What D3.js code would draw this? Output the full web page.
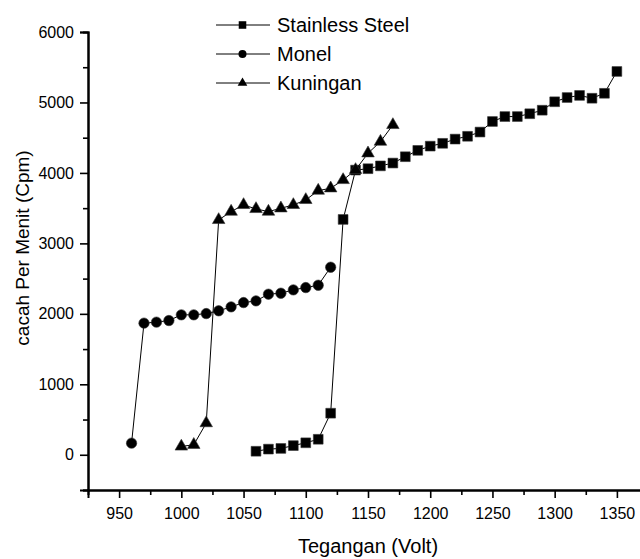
<!DOCTYPE html>
<html>
<head>
<meta charset="utf-8">
<script src="https://cdn.jsdelivr.net/npm/d3@7"></script>
<style>
  html, body { margin: 0; padding: 0; background: #fff; }
  svg { display: block; }
  text { font-family: "Liberation Sans", Arial, sans-serif; fill: #000; }
</style>
</head>
<body>
<svg id="chart" width="640" height="559"></svg>
<script>
// ---- Data ----
const seriesNames = ["Stainless Steel", "Monel", "Kuningan"];

const steelVolt = [1060,1070,1080,1090,1100,1110,1120,1130,1140,1150,1160,1170,1180,1190,1200,1210,1220,1230,1240,1250,1260,1270,1280,1290,1300,1310,1320,1330,1340,1350];
const steelCpm  = [50,80,90,130,170,220,590,3340,4040,4060,4100,4140,4230,4320,4380,4420,4480,4520,4580,4730,4800,4800,4840,4890,5010,5070,5100,5060,5130,5440];

const monelVolt = [960,970,980,990,1000,1010,1020,1030,1040,1050,1060,1070,1080,1090,1100,1110,1120];
const monelCpm  = [165,1868,1882,1905,1986,1986,2004,2043,2099,2160,2184,2279,2293,2340,2373,2406,2662];

const kuninganVolt = [1000,1010,1020,1030,1040,1050,1060,1070,1080,1090,1100,1110,1120,1130,1140,1150,1160,1170];
const kuninganCpm  = [118,142,449,3333,3451,3546,3489,3451,3498,3546,3617,3749,3782,3900,4043,4279,4444,4681];

const xMajorTicks = [950,1000,1050,1100,1150,1200,1250,1300,1350];
const xMinorTicks = [975,1025,1075,1125,1175,1225,1275,1325];
const yMajorTicks = [0,1000,2000,3000,4000,5000,6000];
const yMinorTicks = [-500,500,1500,2500,3500,4500,5500];

const xTitle = "Tegangan (Volt)";
const yTitle = "cacah Per Menit (Cpm)";

// ---- Layout ----
const svg = d3.select("#chart");
const mLeft = 88, mRight = 648, mTop = 32, mBottom = 490;

const x = d3.scaleLinear().domain([925, 1375]).range([mLeft, mRight]);
const y = d3.scaleLinear().domain([-500, 6000]).range([mBottom, mTop]);

// ---- Axes ----
const xAxisMinor = d3.axisBottom(x).tickValues(xMinorTicks).tickSize(5).tickFormat("");
const xAxis = d3.axisBottom(x).tickValues(xMajorTicks).tickSize(8).tickPadding(10).tickFormat(d3.format("d"));
const yAxisMinor = d3.axisLeft(y).tickValues(yMinorTicks).tickSize(5).tickFormat("");
const yAxis = d3.axisLeft(y).tickValues(yMajorTicks).tickSize(8).tickPadding(6).tickFormat(d3.format("d"));

function styleAxis(g) {
  g.select(".domain").attr("stroke", "#000").attr("stroke-width", 2);
  g.selectAll(".tick line").attr("stroke", "#000").attr("stroke-width", 1.6);
  g.selectAll(".tick text").style("font-family", "'Liberation Sans', Arial, sans-serif")
    .style("font-size", "16px").attr("fill", "#000");
}

svg.append("g").attr("transform", `translate(0,${mBottom})`).call(xAxisMinor).call(styleAxis);
svg.append("g").attr("transform", `translate(0,${mBottom})`).call(xAxis).call(styleAxis);
svg.append("g").attr("transform", `translate(${mLeft},0)`).call(yAxisMinor).call(styleAxis);
svg.append("g").attr("transform", `translate(${mLeft},0)`).call(yAxis).call(styleAxis);

// Axis titles
svg.append("text")
  .attr("x", 368).attr("y", 553)
  .attr("text-anchor", "middle")
  .style("font-size", "20px")
  .text(xTitle);

svg.append("text")
  .attr("transform", `translate(29,248) rotate(-90)`)
  .attr("text-anchor", "middle")
  .style("font-size", "19px")
  .text(yTitle);

// ---- Series ----
const series = [
  { name: seriesNames[0], xs: steelVolt, ys: steelCpm, shape: d3.symbolSquare, size: 95 },
  { name: seriesNames[1], xs: monelVolt, ys: monelCpm, shape: d3.symbolCircle, size: 85 },
  { name: seriesNames[2], xs: kuninganVolt, ys: kuninganCpm, shape: d3.symbolTriangle, size: 68 }
];

const line = d3.line().x(d => x(d[0])).y(d => y(d[1]));

series.forEach(s => {
  const pts = s.xs.map((v, i) => [v, s.ys[i]]);
  svg.append("path")
    .datum(pts)
    .attr("d", line)
    .attr("fill", "none")
    .attr("stroke", "#000")
    .attr("stroke-width", 1);
  svg.append("g").selectAll("path")
    .data(pts)
    .join("path")
    .attr("transform", d => `translate(${x(d[0])},${y(d[1])})`)
    .attr("d", d3.symbol().type(s.shape).size(s.size))
    .attr("fill", "#000")
    .attr("stroke", "#333")
    .attr("stroke-width", 0.6);
});

// ---- Legend ----
const legend = svg.append("g");
series.forEach((s, i) => {
  const ly = 25 + i * 29;
  legend.append("line")
    .attr("x1", 216).attr("x2", 270).attr("y1", ly).attr("y2", ly)
    .attr("stroke", "#000").attr("stroke-width", 1);
  legend.append("path")
    .attr("transform", `translate(242.5,${ly})`)
    .attr("d", d3.symbol().type(s.shape).size(s.size * 0.6))
    .attr("fill", "#000");
  legend.append("text")
    .attr("x", 277).attr("y", ly + 7)
    .style("font-size", "20px")
    .text(s.name);
});
</script>
</body>
</html>
